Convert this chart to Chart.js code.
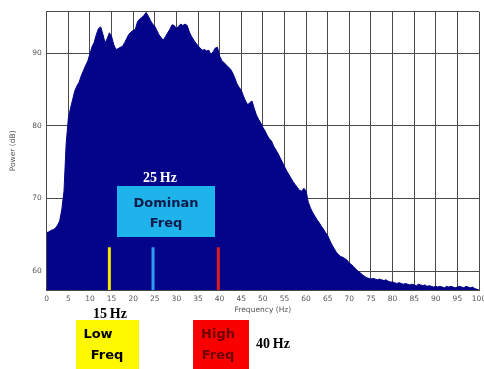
<!DOCTYPE html>
<html>
<head>
<meta charset="utf-8">
<script src="https://cdn.jsdelivr.net/npm/chart.js@4.4.0/dist/chart.umd.min.js"></script>
<style>
  html, body { margin: 0; padding: 0; background: #ffffff; }
  #wrap { width: 484px; height: 369px; position: relative; }
</style>
</head>
<body>
<div id="wrap"><canvas id="c" width="484" height="369"></canvas></div>
<script>
// ---- data ----
const freqs = [];
for (let i = 0; i <= 200; i++) freqs.push(i * 0.5); // 0, 0.5, ... 100 Hz (x positions)

const powerDb = [
  65.3, 65.4, 65.6, 65.7, 65.9, 66.3, 66.9, 68.5, 71.0, 77.5,
  81.0, 82.4, 83.6, 84.8, 85.5, 86.0, 86.9, 87.6, 88.3, 88.9,
  89.9, 90.9, 91.5, 92.6, 93.4, 93.6, 92.6, 91.4, 92.0, 92.8,
  92.3, 91.2, 90.5, 90.6, 90.8, 90.9, 91.4, 92.0, 92.6, 92.9,
  93.1, 93.3, 94.3, 94.7, 94.9, 95.2, 95.6, 95.1, 94.5, 94.0,
  93.7, 93.1, 92.5, 92.1, 91.8, 92.3, 92.8, 93.3, 93.9, 93.8,
  93.4, 93.7, 94.0, 93.8, 94.0, 93.8, 92.9, 92.3, 91.8, 91.4,
  91.0, 90.7, 90.4, 90.5, 90.3, 90.4, 89.8, 90.2, 90.7, 90.8,
  89.6, 89.0, 88.7, 88.4, 88.1, 87.8, 87.3, 86.6, 85.8, 85.3,
  84.9, 84.1, 83.4, 82.9, 83.2, 83.4, 82.4, 81.5, 80.9, 80.4,
  79.8, 79.3, 78.7, 78.2, 77.9, 77.2, 76.7, 76.2, 75.6, 75.0,
  74.4, 73.8, 73.3, 72.8, 72.3, 71.9, 71.5, 71.1, 71.0, 71.4,
  71.0, 69.5, 68.7, 68.1, 67.6, 67.1, 66.7, 66.2, 65.8, 65.3,
  64.9, 64.2, 63.6, 63.1, 62.6, 62.3, 62.0, 61.9, 61.7, 61.5,
  61.1, 60.9, 60.6, 60.3, 60.0, 59.8, 59.5, 59.3, 59.1, 59.0,
  58.9, 59.0, 58.9, 58.8, 58.9, 58.8, 58.7, 58.8, 58.6, 58.5,
  58.5, 58.4, 58.3, 58.4, 58.3, 58.2, 58.3, 58.2, 58.1, 58.2,
  58.1, 58.0, 58.2, 58.1, 58.0, 58.1, 57.9, 58.0, 57.9, 57.8,
  57.9, 57.8, 57.9, 57.8, 57.7, 57.9, 57.8, 57.9, 57.8, 57.7,
  57.8, 57.9, 57.8, 57.7, 57.9, 57.8, 57.7, 57.8, 57.6, 57.5,
  57.4
];

// marker lines (frequency in Hz where each coloured line sits, and its top in dB)
const markerFreqs = [14.5, 24.6, 39.7];
const markerTop = [63.3, 63.3, 63.3];
const markerNames = ['Low Freq', 'Dominan Freq', 'High Freq'];

const xTickValues = [0,5,10,15,20,25,30,35,40,45,50,55,60,65,70,75,80,85,90,95,100];
const yTickValues = [60, 70, 80, 90];

const Y_MIN = 57.4, Y_MAX = 95.7;

// ---- build chart ----
const spectrum = freqs.map((f, i) => ({ x: f, y: powerDb[i] }));
const markerColors = ['#f2e600', '#2a9df0', '#e21b1b'];
const markerSets = markerFreqs.map((f, i) => ({
  label: markerNames[i],
  data: [{ x: f, y: Y_MIN }, { x: f, y: markerTop[i] }],
  borderColor: markerColors[i],
  borderWidth: 3,
  pointRadius: 0,
  fill: false,
  order: 0
}));

const tickFont = { family: 'DejaVu Sans', size: 7.5 };

const calloutPlugin = {
  id: 'callouts',
  afterDraw(chart) {
    const ctx = chart.ctx;
    ctx.save();
    ctx.textAlign = 'center';
    ctx.textBaseline = 'middle';
    const boxFont = 'bold 13px "DejaVu Sans", Verdana, sans-serif';
    const hzFont = 'bold 14px "Liberation Serif", "Times New Roman", serif';
    // Dominant frequency box (inside plot)
    ctx.fillStyle = '#1fb3ec';
    ctx.fillRect(117, 186, 98, 51);
    ctx.fillStyle = '#0e1a4a';
    ctx.font = boxFont;
    ctx.fillText('Dominan', 166, 204);
    ctx.fillText('Freq', 166, 224);
    ctx.fillStyle = '#ffffff';
    ctx.font = hzFont;
    ctx.fillText('25\u2009Hz', 160, 178);

    // Low freq box
    ctx.fillStyle = '#fdf800';
    ctx.fillRect(76, 320, 63, 49);
    ctx.fillStyle = '#000000';
    ctx.font = boxFont;
    ctx.fillText('Low', 98, 335);
    ctx.fillText('Freq', 107, 356);
    ctx.font = hzFont;
    ctx.fillText('15\u2009Hz', 110, 314);

    // High freq box
    ctx.fillStyle = '#fb0000';
    ctx.fillRect(193, 320, 56, 49);
    ctx.fillStyle = '#6e0000';
    ctx.font = boxFont;
    ctx.fillText('High', 218, 335);
    ctx.fillText('Freq', 218, 356);
    ctx.fillStyle = '#000000';
    ctx.font = hzFont;
    ctx.fillText('40\u2009Hz', 273, 344);
    ctx.restore();
  }
};

new Chart(document.getElementById('c'), {
  type: 'line',
  data: {
    datasets: [
      ...markerSets,
      {
        label: 'Power',
        data: spectrum,
        borderColor: '#04048a',
        backgroundColor: '#04048a',
        borderWidth: 1,
        pointRadius: 0,
        tension: 0,
        fill: 'start',
        order: 1
      }
    ]
  },
  options: {
    responsive: false,
    animation: false,
    layout: { padding: { top: 11.7, right: 5, left: 0, bottom: 0 } },
    plugins: { legend: { display: false }, tooltip: { enabled: false } },
    scales: {
      x: {
        type: 'linear',
        min: 0,
        max: 100,
        afterBuildTicks: s => { s.ticks = xTickValues.map(v => ({ value: v })); },
        afterFit: s => { s.height = 79; s.paddingRight = 0; s.paddingLeft = 0; },
        ticks: { font: tickFont, color: '#555', padding: 5, maxRotation: 0, autoSkip: false },
        grid: { color: '#4a4a4a', lineWidth: 1, drawTicks: false },
        border: { color: '#4a4a4a' },
        title: {
          display: true, text: 'Frequency (Hz)', color: '#555',
          font: tickFont, padding: { top: 0, bottom: 54 }
        }
      },
      y: {
        type: 'linear',
        min: Y_MIN,
        max: Y_MAX,
        afterBuildTicks: s => { s.ticks = yTickValues.concat([Y_MAX]).map(v => ({ value: v })); },
        afterFit: s => { s.width = 46.7; },
        ticks: {
          font: tickFont, color: '#555', padding: 5,
          callback: v => (yTickValues.includes(v) ? String(v) : '')
        },
        grid: { color: '#4a4a4a', lineWidth: 1, drawTicks: false },
        border: { color: '#4a4a4a' },
        title: {
          display: true, text: 'Power (dB)', color: '#555',
          font: tickFont, padding: { top: 8.5, bottom: 0 }
        }
      }
    }
  },
  plugins: [calloutPlugin]
});
</script>
</body>
</html>
